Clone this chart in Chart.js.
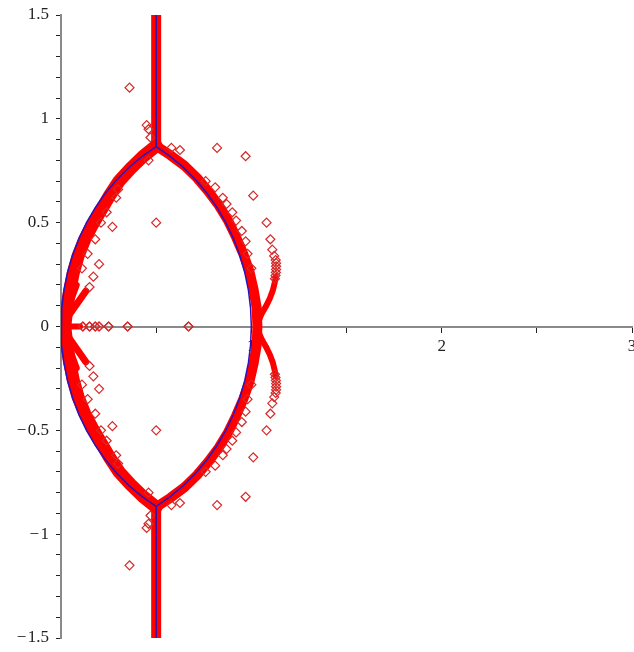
<!DOCTYPE html>
<html>
<head>
<meta charset="utf-8">
<script src="https://cdn.jsdelivr.net/npm/chart.js@4.4.0/dist/chart.umd.min.js"></script>
<style>
  body { margin: 0; background: #fff; }
</style>
</head>
<body>
<canvas id="rootChart" width="634" height="652"></canvas>
<script>
// blue boundary: top vertical, right arc, bottom vertical
var blueOuterX = [0.5, 0.5, 0.5736, 0.6428, 0.7071, 0.766, 0.8192, 0.866, 0.9063, 0.9397, 0.9659, 0.9848, 0.9962, 1,
  0.9962, 0.9848, 0.9659, 0.9397, 0.9063, 0.866, 0.8192, 0.766, 0.7071, 0.6428, 0.5736, 0.5, 0.5];
var blueOuterY = [1.5, 0.866, 0.8192, 0.766, 0.7071, 0.6428, 0.5736, 0.5, 0.4226, 0.342, 0.2588, 0.1736, 0.0872, 0,
  -0.0872, -0.1736, -0.2588, -0.342, -0.4226, -0.5, -0.5736, -0.6428, -0.7071, -0.766, -0.8192, -0.866, -1.5];
// blue boundary: left arc
var blueInnerX = [0.5, 0.4264, 0.3572, 0.2929, 0.234, 0.1808, 0.134, 0.0937, 0.0603, 0.0341, 0.0152, 0.0038, 0,
  0.0038, 0.0152, 0.0341, 0.0603, 0.0937, 0.134, 0.1808, 0.234, 0.2929, 0.3572, 0.4264, 0.5];
var blueInnerY = [0.866, 0.8192, 0.766, 0.7071, 0.6428, 0.5736, 0.5, 0.4226, 0.342, 0.2588, 0.1736, 0.0872, 0,
  -0.0872, -0.1736, -0.2588, -0.342, -0.4226, -0.5, -0.5736, -0.6428, -0.7071, -0.766, -0.8192, -0.866];

// dense red bands (roots piled up along the curves)
var bandOuterX = [0.5, 0.5, 0.575, 0.649, 0.715, 0.775, 0.83, 0.879, 0.92, 0.958, 0.99, 1.012, 1.028, 1.032,
  1.028, 1.012, 0.99, 0.958, 0.92, 0.879, 0.83, 0.775, 0.715, 0.649, 0.575, 0.5, 0.5];
var bandOuterY = [1.5, 0.87, 0.825, 0.774, 0.715, 0.65, 0.582, 0.508, 0.43, 0.349, 0.265, 0.178, 0.09, 0,
  -0.09, -0.178, -0.265, -0.349, -0.43, -0.508, -0.582, -0.65, -0.715, -0.774, -0.825, -0.87, -1.5];
var bandInnerX = [0.5, 0.43, 0.365, 0.305, 0.255, 0.21, 0.165, 0.125, 0.09, 0.065, 0.045, 0.03, 0.02,
  0.03, 0.045, 0.065, 0.09, 0.125, 0.165, 0.21, 0.255, 0.305, 0.365, 0.43, 0.5];
var bandInnerY = [0.87, 0.818, 0.76, 0.7, 0.63, 0.56, 0.49, 0.42, 0.34, 0.26, 0.17, 0.085, 0,
  -0.085, -0.17, -0.26, -0.34, -0.42, -0.49, -0.56, -0.63, -0.7, -0.76, -0.818, -0.87];
var bandSideX = [1.128, 1.123, 1.113, 1.097, 1.076, 1.055, 1.039, 1.03,
  1.039, 1.055, 1.076, 1.097, 1.113, 1.123, 1.128];
var bandSideY = [0.24, 0.212, 0.174, 0.135, 0.096, 0.063, 0.029, 0,
  -0.029, -0.063, -0.096, -0.135, -0.174, -0.212, -0.24];
var bandAxisX = [0, 0.1];
var bandAxisY = [0, 0];
var rayUpX = [0.08, 0, 0.13];
var rayUpY = [0.2, 0, 0.17];
var rayDownX = [0.08, 0, 0.13];
var rayDownY = [-0.2, 0, -0.17];

// single roots (hollow diamonds)
var rootX = [0.36, 0.45, 0.46, 0.47, 0.46, 0.58, 0.625, 0.82, 0.97, 1.01, 1.08, 1.1, 1.11, 1.12,
  0.5, 0.29, 0.27, 0.21, 0.18, 0.14, 0.11, 0.2, 0.17, 0.15, 0.24, 0.3,
  0.76, 0.81, 0.85, 0.87, 0.9, 0.92, 0.95, 0.97, 0.98, 1.0,
  1.128, 1.13, 1.13, 1.13, 1.129, 1.127, 1.124,
  0.115, 0.15, 0.18, 0.2, 0.25, 0.35, 0.67];
var rootYUp = [1.15, 0.97, 0.95, 0.91, 0.8, 0.86, 0.85, 0.86, 0.82, 0.63, 0.5, 0.42, 0.37, 0.34,
  0.5, 0.62, 0.48, 0.5, 0.42, 0.35, 0.28, 0.3, 0.24, 0.19, 0.55, 0.66,
  0.7, 0.67, 0.62, 0.59, 0.55, 0.51, 0.46, 0.41, 0.35, 0.28,
  0.32, 0.305, 0.29, 0.275, 0.26, 0.245, 0.23,
  0, 0, 0, 0, 0, 0, 0];
var rootYDown = [-1.15, -0.97, -0.95, -0.91, -0.8, -0.86, -0.85, -0.86, -0.82, -0.63, -0.5, -0.42, -0.37, -0.34,
  -0.5, -0.62, -0.48, -0.5, -0.42, -0.35, -0.28, -0.3, -0.24, -0.19, -0.55, -0.66,
  -0.7, -0.67, -0.62, -0.59, -0.55, -0.51, -0.46, -0.41, -0.35, -0.28,
  -0.32, -0.305, -0.29, -0.275, -0.26, -0.245, -0.23,
  0, 0, 0, 0, 0, 0, 0];

function pts(xs, ys) {
  var out = [];
  for (var i = 0; i < xs.length; i++) out.push({x: xs[i], y: ys[i]});
  return out;
}

var red = 'rgb(255,0,0)';

function band(xs, ys, w) {
  return {
    data: pts(xs, ys), showLine: true, pointRadius: 0, borderColor: red,
    borderWidth: w, borderCapStyle: 'round', borderJoinStyle: 'round', order: 3
  };
}

var datasets = [
  band(bandOuterX, bandOuterY, 10),
  band(bandInnerX, bandInnerY, 13),
  band(bandSideX, bandSideY, 6),
  band(bandAxisX, bandAxisY, 6),
  band(rayUpX, rayUpY, 7),
  band(rayDownX, rayDownY, 7),
  {data: pts(rootX, rootYUp), pointStyle: 'rectRot', pointRadius: 4.5, borderWidth: 1.2,
    borderColor: 'rgb(215,40,40)', backgroundColor: 'rgba(0,0,0,0)', order: 2},
  {data: pts(rootX, rootYDown), pointStyle: 'rectRot', pointRadius: 4.5, borderWidth: 1.2,
    borderColor: 'rgb(215,40,40)', backgroundColor: 'rgba(0,0,0,0)', order: 2},
  {data: pts(blueOuterX, blueOuterY), showLine: true, pointRadius: 0, borderColor: 'rgb(40,20,190)',
    borderWidth: 1.5, order: 1},
  {data: pts(blueInnerX, blueInnerY), showLine: true, pointRadius: 0, borderColor: 'rgb(40,20,190)',
    borderWidth: 1.5, order: 1}
];

function fmt(v) {
  var r = Math.round(v * 10) / 10;
  if (Math.abs(r * 2 - Math.round(r * 2)) > 1e-6) return '';
  var s = String(Math.abs(r));
  return r < 0 ? '\u2212\u200A' + s : s;
}

var chart = new Chart(document.getElementById('rootChart'), {
  type: 'scatter',
  data: {datasets: datasets},
  options: {
    responsive: false,
    animation: false,
    layout: {autoPadding: false, padding: {left: 0, right: 2, top: 15, bottom: 14}},
    plugins: {legend: {display: false}, tooltip: {enabled: false}},
    scales: {
      x: {
        type: 'linear', min: 0, max: 3, position: {y: 0},
        afterFit: function(s) { s.paddingLeft = 0; s.paddingRight = 0; },
        border: {display: true, color: '#8a8a8a', width: 2},
        grid: {drawOnChartArea: false, drawTicks: true, tickLength: 5, tickColor: '#222'},
        ticks: {
          stepSize: 0.5, autoSkip: false, maxRotation: 0, padding: 5,
          color: '#222', font: {family: 'Liberation Serif', size: 17},
          callback: function(v) {
            var r = Math.round(v * 10) / 10;
            return (r > 0 && r === Math.round(r)) ? String(r) : '';
          }
        }
      },
      y: {
        type: 'linear', min: -1.5, max: 1.5, position: 'left',
        afterFit: function(s) { s.width = 61; s.paddingTop = 0; s.paddingBottom = 0; },
        border: {display: true, color: '#8a8a8a', width: 2},
        grid: {drawOnChartArea: false, drawTicks: true, tickLength: 5, tickColor: '#222'},
        ticks: {
          stepSize: 0.1, autoSkip: false, padding: 7,
          color: '#222', font: {family: 'Liberation Serif', size: 17},
          callback: fmt
        }
      }
    }
  }
});
</script>
</body>
</html>
